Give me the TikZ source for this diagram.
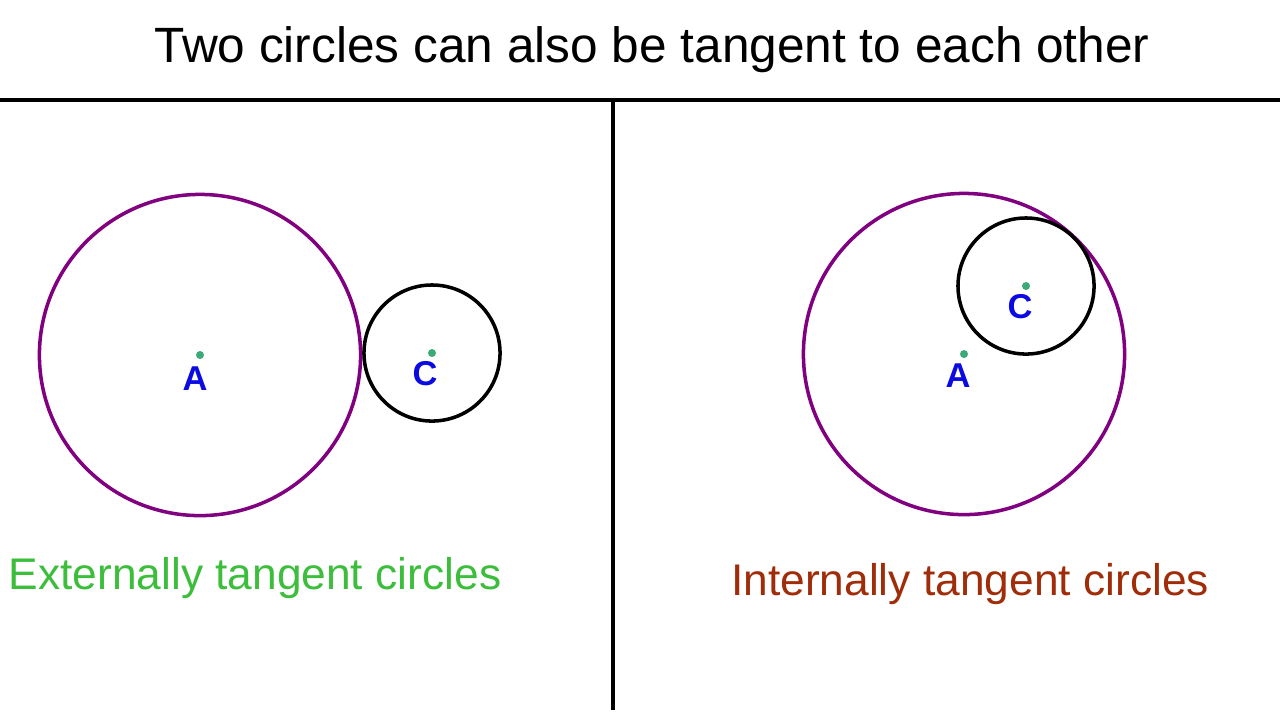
\documentclass[tikz,border=0pt]{standalone}
\usepackage{fontspec}
\setmainfont{Liberation Sans}
\usetikzlibrary{positioning}
\definecolor{ringpurple}{RGB}{128,0,128}
\definecolor{dotgreen}{RGB}{60,170,120}
\definecolor{lblblue}{RGB}{10,10,225}
\definecolor{extgreen}{RGB}{60,190,60}
\definecolor{intbrown}{RGB}{160,45,10}

\begin{document}
\begin{tikzpicture}[x=0.01cm, y=-0.01cm,
	big/.style = {draw=ringpurple, circle, line width=1pt, inner sep=0pt, minimum size=3.21cm},
	small/.style = {draw, circle, line width=1pt, inner sep=0pt, minimum size=1.36cm},
	dot/.style = {circle, fill=dotgreen, inner sep=0pt, minimum size=0.08cm},
	lbl/.style = {text=lblblue, font=\bfseries\fontsize{9.8}{11}\selectfont, anchor=base},
	caption/.style = {inner sep=0pt, font=\fontsize{12.6}{14}\selectfont}]
	\useasboundingbox (0,0) rectangle (1280,720);
	% heading and frame
	\node[anchor=base, inner sep=0pt, font=\fontsize{14.1}{16}\selectfont] (title) at (652,62) {Two circles can also be tangent to each other};
	\coordinate (hl) at (0,100);
	\coordinate (hr) at (1280,100);
	\coordinate (vt) at (613,100);
	\coordinate (vb) at (613,710);
	\draw[line width=1.2pt] (hl) -- (hr);
	\draw[line width=1.2pt] (vt) -- (vb);
	% left: externally tangent
	\node[dot] (a1) at (200,355) {};
	\node[dot] (c1) at (432,353) {};
	\node[big] (ring1) at (a1) {};
	\node[small] (ring2) at (c1) {};
	\node[lbl] (la1) at (195,390) {A};
	\node[lbl] (lc1) at (425,385) {C};
	\node[caption, anchor=base west, text=extgreen] (ext) at (8,589) {Externally tangent circles};
	% right: internally tangent
	\node[dot] (a2) at (964,354) {};
	\node[dot] (c2) at (1026,286) {};
	\node[big] (ring3) at (a2) {};
	\node[small] (ring4) at (c2) {};
	\node[lbl] (la2) at (958,387) {A};
	\node[lbl] (lc2) at (1020,318) {C};
	\node[caption, anchor=base, text=intbrown] (int) at (970,595) {Internally tangent circles};
\end{tikzpicture}
\end{document}
